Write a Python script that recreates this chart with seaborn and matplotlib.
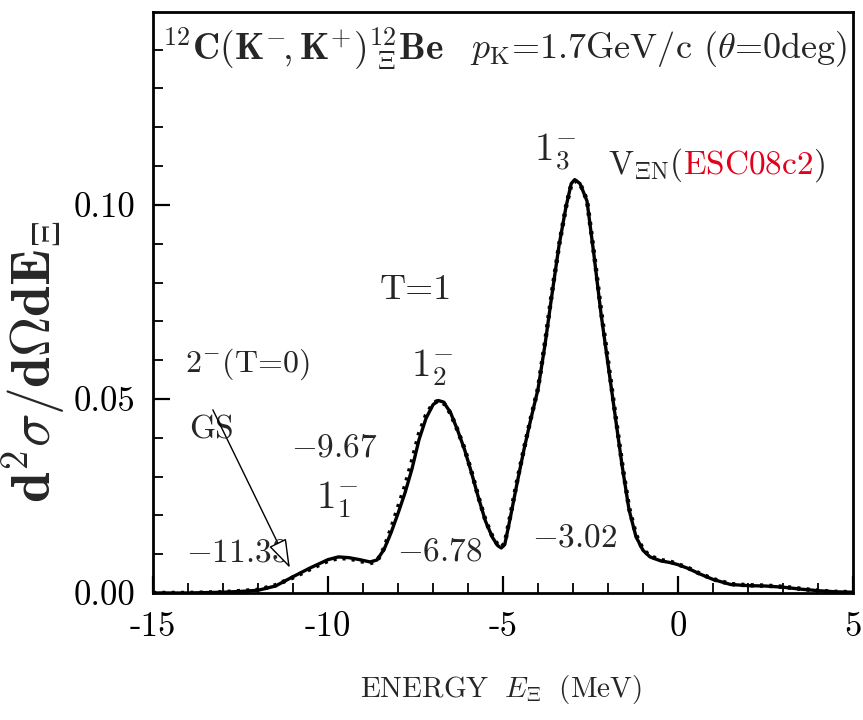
import matplotlib
matplotlib.use("Agg")
import matplotlib.pyplot as plt
import matplotlib.transforms as mtransforms
import seaborn as sns
import numpy as np
import pandas as pd

# ---------------- data ----------------
energy = [-15.0, -14.0, -13.0, -12.5, -12.0, -11.5, -11.0, -10.5, -10.0, -9.7,
          -9.4, -9.1, -8.8, -8.6, -8.4, -8.2, -8.0, -7.8, -7.6, -7.4,
          -7.2, -7.0, -6.85, -6.7, -6.5, -6.3, -6.1, -5.9, -5.7, -5.5,
          -5.3, -5.15, -5.05, -4.95, -4.8, -4.6, -4.4, -4.2, -4.0, -3.8,
          -3.6, -3.4, -3.2, -3.05, -2.95, -2.8, -2.6, -2.4, -2.2, -2.0,
          -1.8, -1.6, -1.4, -1.2, -1.0, -0.8, -0.5, -0.2, 0.0, 0.3,
          0.6, 1.0, 1.5, 2.0, 2.5, 3.0, 3.5, 4.0, 4.5, 5.0]

sigma_solid = [0.0, 0.0, 0.0002, 0.0004, 0.0007, 0.0018, 0.0042, 0.0065, 0.0086, 0.0093,
               0.0091, 0.0086, 0.0080, 0.0085, 0.0112, 0.0155, 0.0205, 0.0258, 0.0320, 0.0395,
               0.0450, 0.0485, 0.0496, 0.0492, 0.0465, 0.0420, 0.0370, 0.0310, 0.0245, 0.0185,
               0.0143, 0.0122, 0.0116, 0.0125, 0.0190, 0.0282, 0.0370, 0.0450, 0.0525, 0.0640,
               0.0770, 0.0895, 0.0995, 0.1055, 0.1065, 0.1055, 0.1010, 0.0870, 0.0720, 0.0590,
               0.0460, 0.0330, 0.0215, 0.0145, 0.0110, 0.0093, 0.0083, 0.0078, 0.0073, 0.0063,
               0.0050, 0.0035, 0.0022, 0.0019, 0.0018, 0.0015, 0.0010, 0.0006, 0.0003, 0.0002]

sigma_dotted = [0.0, 0.0, 0.0002, 0.0005, 0.0008, 0.0020, 0.0040, 0.0062, 0.0083, 0.0090,
                0.0089, 0.0083, 0.0077, 0.0082, 0.0115, 0.0165, 0.0220, 0.0275, 0.0340, 0.0410,
                0.0458, 0.0488, 0.0496, 0.0490, 0.0463, 0.0420, 0.0372, 0.0312, 0.0247, 0.0187,
                0.0145, 0.0124, 0.0118, 0.0128, 0.0195, 0.0287, 0.0372, 0.0452, 0.0527, 0.0645,
                0.0775, 0.0895, 0.0995, 0.1052, 0.1062, 0.1055, 0.1012, 0.0875, 0.0728, 0.0598,
                0.0465, 0.0335, 0.0220, 0.0150, 0.0112, 0.0095, 0.0085, 0.0080, 0.0074, 0.0064,
                0.0051, 0.0036, 0.0023, 0.0020, 0.0019, 0.0016, 0.0011, 0.0006, 0.0003, 0.0002]

x_ticks = [-15, -10, -5, 0, 5]
x_tick_labels = ["-15", "-10", "-5", "0", "5"]
y_ticks = [0.00, 0.05, 0.10]
y_tick_labels = ["0.00", "0.05", "0.10"]

df = pd.DataFrame({"E": energy, "solid": sigma_solid, "dotted": sigma_dotted})

# ---------------- style (ticks configured through rcParams) ----------------
sns.set_theme(style="white")
plt.rcParams.update({
    "mathtext.fontset": "cm",
    "font.family": ["cmr10", "DejaVu Serif"],
    "axes.formatter.use_mathtext": True,
    "xtick.bottom": True, "xtick.top": False,
    "ytick.left": True, "ytick.right": False,
    "xtick.direction": "in", "ytick.direction": "in",
    "xtick.color": "black", "ytick.color": "black",
    "xtick.major.size": 12, "ytick.major.size": 12,
    "xtick.minor.size": 7, "ytick.minor.size": 7,
    "xtick.major.width": 1.6, "ytick.major.width": 1.6,
    "xtick.minor.width": 1.3, "ytick.minor.width": 1.3,
    "xtick.major.pad": 13, "ytick.major.pad": 13,
    "xtick.minor.visible": False, "ytick.minor.visible": False,
    "axes.edgecolor": "black", "axes.linewidth": 2.0,
})

fig = plt.figure(figsize=(8.63, 7.2), dpi=100)
ax = fig.add_axes([153 / 863, 1 - 593 / 720, 700 / 863, 581 / 720])
ax.set_axisbelow(False)

sns.lineplot(data=df, x="E", y="dotted", ax=ax, color="black", lw=3.2,
             linestyle=(0, (0.7, 1.4)), estimator=None, sort=False)
sns.lineplot(data=df, x="E", y="solid", ax=ax, color="black", lw=2.4,
             estimator=None, sort=False)

ax.set_xlim(-15, 5)
ax.set_ylim(0, 0.1497)
ax.set_xlabel("")
ax.set_ylabel("")

ax.set_xticks(x_ticks)
ax.set_xticklabels(x_tick_labels, fontsize=25)
ax.set_xticks(np.arange(-14, 5, 1), minor=True)
ax.set_yticks(y_ticks)
ax.set_yticklabels(y_tick_labels, fontsize=25)
ax.set_yticks(np.arange(0.01, 0.15, 0.01), minor=True)

# ---------------- texts ----------------
ax.text(-14.74, 0.1402, r"$\mathbf{{}^{12}C(K^{-}\!,K^{+})^{12}_{\ \Xi}Be}$",
        fontsize=27, va="center", ha="left")
ax.text(-5.93, 0.1402, r"$p_{\mathrm{K}}$=1.7GeV/c ($\theta$=0deg)",
        fontsize=26, va="center", ha="left")
ax.text(-3.5, 0.1135, r"$\mathrm{1}^{-}_{3}$", fontsize=28, va="center", ha="center")

t1 = ax.text(-2.0, 0.1080, r"$\mathrm{V}_{\Xi\mathrm{N}}\mathrm{(}$", fontsize=24,
             va="baseline", ha="left")
fig.canvas.draw()
r = fig.canvas.get_renderer()
bb = t1.get_window_extent(renderer=r)
inv = ax.transData.inverted()
x_end = inv.transform((bb.x1, bb.y0))[0]
t2 = ax.text(x_end, 0.1080, r"$\mathrm{ESC08c2}$", fontsize=24, va="baseline",
             ha="left", color="#e3001b")
fig.canvas.draw()
bb2 = t2.get_window_extent(renderer=r)
x_end2 = inv.transform((bb2.x1, bb2.y0))[0]
ax.text(x_end2, 0.1080, r"$\mathrm{)}$", fontsize=24, va="baseline", ha="left")

ax.text(-7.49, 0.0780, "T=1", fontsize=26, va="center", ha="center")
ax.text(-7.03, 0.0580, r"$\mathrm{1}^{-}_{2}$", fontsize=28, va="center", ha="center")
ax.text(-14.09, 0.0590, r"2$^{-}$(T=0)", fontsize=23, va="center", ha="left")
ax.text(-13.96, 0.0420, "GS", fontsize=24, va="center", ha="left")
ax.text(-9.83, 0.0374, r"$-\mathrm{9.67}$", fontsize=24, va="center", ha="center")
ax.text(-9.74, 0.0240, r"$\mathrm{1}^{-}_{1}$", fontsize=28, va="center", ha="center")
ax.text(-12.6, 0.0103, r"$-\mathrm{11.33}$", fontsize=24, va="center", ha="center")
ax.text(-6.80, 0.0106, r"$-\mathrm{6.78}$", fontsize=24, va="center", ha="center")
ax.text(-2.94, 0.0142, r"$-\mathrm{3.02}$", fontsize=24, va="center", ha="center")

ax.annotate("", xy=(-11.09, 0.0065), xytext=(-13.29, 0.0472),
            arrowprops=dict(arrowstyle="-|>,head_length=0.9,head_width=0.3",
                            fc="white", ec="black", lw=1.0, mutation_scale=20,
                            shrinkA=0, shrinkB=0))

fig.text(501 / 863, 1 - 690 / 720,
         r"$\mathrm{ENERGY}\ \ \mathit{E}_{\Xi}\ \ \mathrm{(MeV)}$",
         fontsize=21, ha="center", va="center")
fig.text(34 / 863, 1 - 362 / 720, r"$\mathbf{d^{2}\sigma/d\Omega dE_{\Xi}}$",
         fontsize=40, rotation=90, ha="center", va="center")

fig.savefig("out.png", dpi=100)


# ---------------- self-check: are the bottom ticks really drawn? ----------------
def bottom_ticks_drawn():
    fig.canvas.draw()
    buf = np.asarray(fig.canvas.buffer_rgba())[:, :, :3].astype(int).sum(axis=2)
    h = buf.shape[0]
    px, py = ax.transData.transform((-13.0, 0.0))
    col = int(round(px))
    row0 = int(round(h - py))
    seg = buf[row0 - 12:row0 - 4, col - 1:col + 2]
    return bool((seg < 300).any())


if not bottom_ticks_drawn():
    for t in ax.xaxis.get_major_ticks() + ax.xaxis.get_minor_ticks():
        t.tick1line.set_visible(True)
        t.tick1line.set_color("black")
        t.tick1line.set_zorder(5)
    ax.xaxis.set_zorder(5)
    fig.savefig("out.png", dpi=100)

if not bottom_ticks_drawn():
    # fall back: tick marks placed at the axis' own tick locations
    trans = mtransforms.blended_transform_factory(ax.transData, ax.transAxes)
    ax_h = ax.get_window_extent().height
    major_len = 12 * fig.dpi / 72 / ax_h
    minor_len = 7 * fig.dpi / 72 / ax_h
    for loc in ax.xaxis.get_majorticklocs():
        ax.plot([loc, loc], [0, major_len], transform=trans, color="black",
                lw=1.6, clip_on=False, zorder=5)
    for loc in ax.xaxis.get_minorticklocs():
        ax.plot([loc, loc], [0, minor_len], transform=trans, color="black",
                lw=1.3, clip_on=False, zorder=5)
    ax.set_xlim(-15, 5)
    fig.savefig("out.png", dpi=100)
